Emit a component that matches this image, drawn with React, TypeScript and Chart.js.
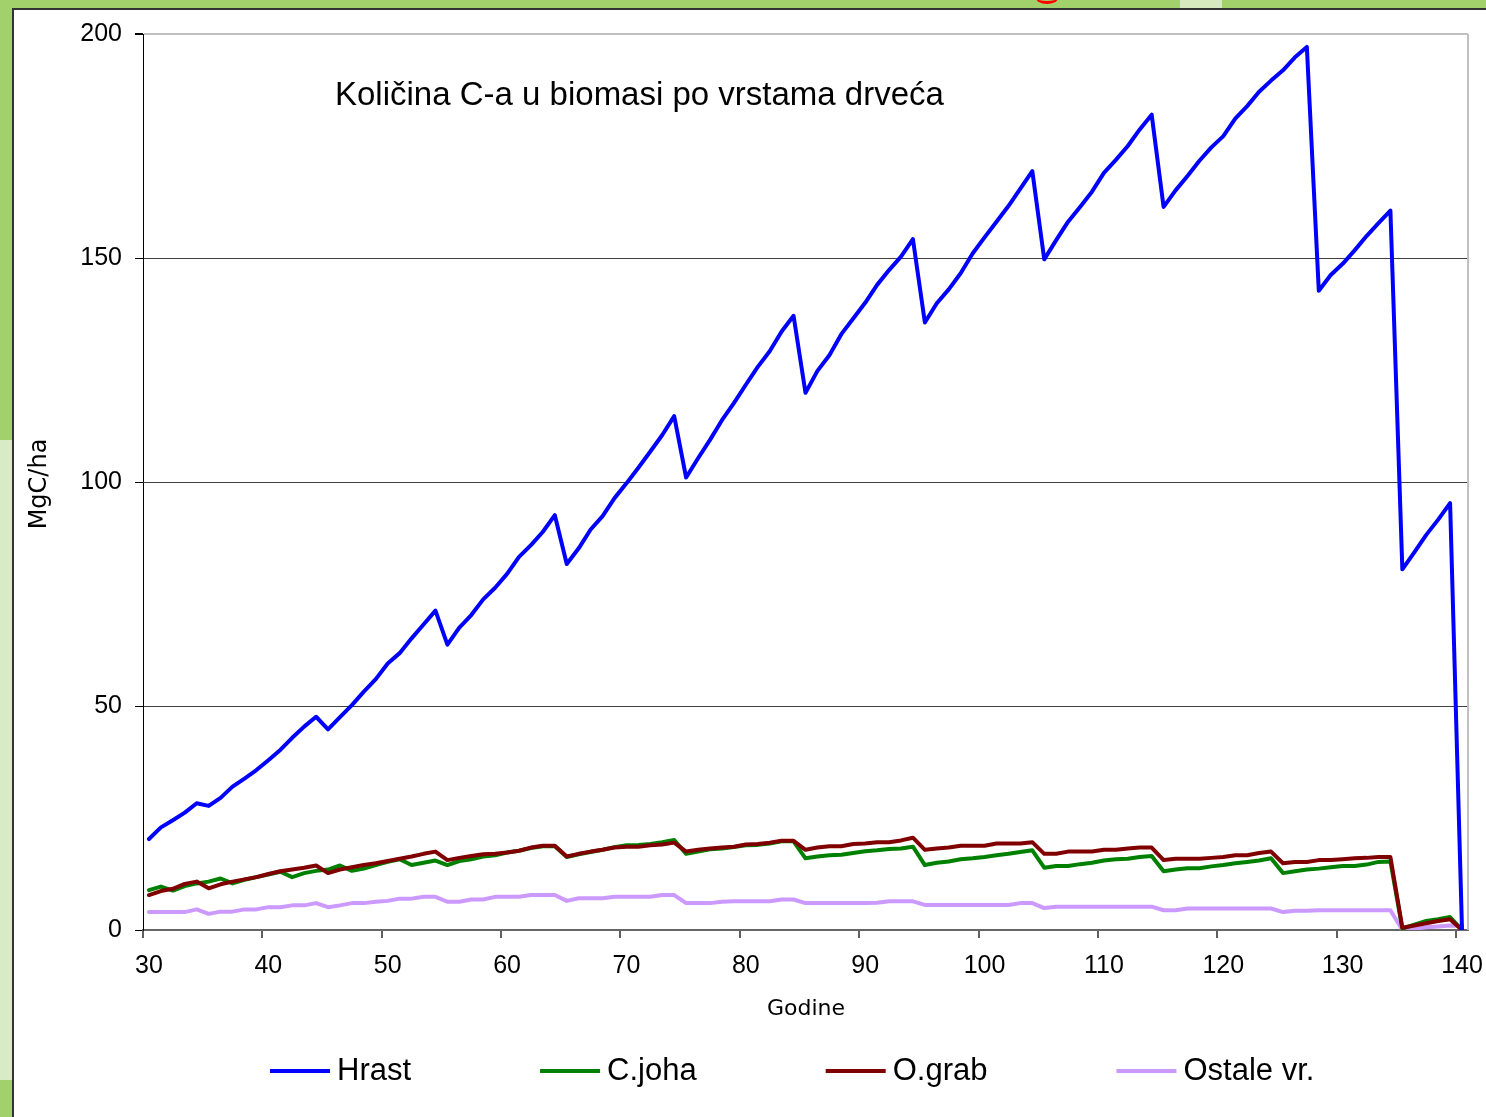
import React, { useEffect, useRef } from "react";
import { Chart, registerables } from "chart.js";

Chart.register(...registerables);

// ---- data ----
const years = [
  "30", "31", "32", "33", "34", "35", "36", "37", "38", "39",
  "40", "41", "42", "43", "44", "45", "46", "47", "48", "49",
  "50", "51", "52", "53", "54", "55", "56", "57", "58", "59",
  "60", "61", "62", "63", "64", "65", "66", "67", "68", "69",
  "70", "71", "72", "73", "74", "75", "76", "77", "78", "79",
  "80", "81", "82", "83", "84", "85", "86", "87", "88", "89",
  "90", "91", "92", "93", "94", "95", "96", "97", "98", "99",
  "100", "101", "102", "103", "104", "105", "106", "107", "108", "109",
  "110", "111", "112", "113", "114", "115", "116", "117", "118", "119",
  "120", "121", "122", "123", "124", "125", "126", "127", "128", "129",
  "130", "131", "132", "133", "134", "135", "136", "137", "138", "139",
  "140",
];

const hrast = [
  20.3, 22.9, 24.5, 26.2, 28.3, 27.7, 29.5, 32.0, 33.8, 35.7,
  37.9, 40.2, 42.9, 45.4, 47.6, 44.8, 47.5, 50.2, 53.2, 56.0,
  59.5, 61.8, 65.1, 68.2, 71.3, 63.7, 67.5, 70.3, 73.8, 76.4,
  79.5, 83.3, 85.9, 88.9, 92.6, 81.7, 85.2, 89.4, 92.4, 96.4,
  99.7, 103.2, 106.8, 110.5, 114.7, 101.0, 105.3, 109.4, 113.8, 117.6,
  121.7, 125.7, 129.2, 133.6, 137.1, 119.9, 124.8, 128.3, 133.0, 136.5,
  140.0, 144.0, 147.3, 150.3, 154.2, 135.6, 139.9, 143.0, 146.6, 151.0,
  154.6, 158.1, 161.6, 165.5, 169.4, 149.7, 154.0, 158.1, 161.4, 164.8,
  169.0, 171.9, 175.0, 178.7, 182.0, 161.4, 165.1, 168.3, 171.7, 174.7,
  177.2, 181.1, 183.9, 187.1, 189.6, 191.9, 194.8, 197.1, 142.7, 146.2,
  148.7, 151.7, 154.9, 157.8, 160.6, 80.5, 84.3, 88.2, 91.6, 95.3,
  0,
];

const cJoha = [
  8.9, 9.7, 8.8, 9.8, 10.4, 10.8, 11.5, 10.4, 11.2, 11.8,
  12.4, 13.0, 11.8, 12.7, 13.2, 13.5, 14.4, 13.2, 13.7, 14.5,
  15.2, 15.8, 14.5, 15.0, 15.5, 14.5, 15.4, 15.8, 16.4, 16.7,
  17.3, 17.7, 18.3, 18.7, 18.7, 16.3, 16.9, 17.4, 17.9, 18.5,
  18.9, 19.0, 19.2, 19.6, 20.1, 17.0, 17.5, 18.0, 18.2, 18.5,
  18.9, 19.0, 19.3, 19.8, 19.8, 16.0, 16.4, 16.7, 16.8, 17.2,
  17.6, 17.8, 18.1, 18.2, 18.6, 14.5, 15.0, 15.3, 15.8, 16.0,
  16.3, 16.7, 17.0, 17.4, 17.8, 13.9, 14.3, 14.3, 14.7, 15.0,
  15.5, 15.8, 15.9, 16.3, 16.5, 13.1, 13.5, 13.8, 13.8, 14.2,
  14.5, 14.9, 15.2, 15.5, 16.0, 12.7, 13.1, 13.5, 13.7, 14.0,
  14.3, 14.3, 14.6, 15.2, 15.3, 0.3, 1.2, 2.0, 2.4, 2.9,
  0,
];

const oGrab = [
  7.8, 8.7, 9.2, 10.3, 10.8, 9.3, 10.2, 10.8, 11.3, 11.8,
  12.5, 13.1, 13.5, 13.9, 14.4, 12.7, 13.5, 14.0, 14.5, 14.9,
  15.4, 15.9, 16.4, 17.0, 17.5, 15.6, 16.1, 16.5, 16.9, 17.0,
  17.3, 17.7, 18.4, 18.8, 18.8, 16.4, 17.0, 17.5, 17.9, 18.4,
  18.6, 18.6, 18.9, 19.1, 19.5, 17.5, 17.9, 18.2, 18.4, 18.6,
  19.1, 19.2, 19.5, 19.9, 19.9, 17.9, 18.4, 18.7, 18.7, 19.2,
  19.3, 19.6, 19.6, 20.0, 20.6, 17.9, 18.2, 18.4, 18.8, 18.8,
  18.8, 19.3, 19.3, 19.3, 19.6, 17.0, 17.0, 17.5, 17.5, 17.5,
  17.9, 17.9, 18.2, 18.4, 18.4, 15.6, 15.9, 15.9, 15.9, 16.1,
  16.3, 16.7, 16.7, 17.2, 17.5, 14.9, 15.2, 15.2, 15.6, 15.6,
  15.8, 16.0, 16.1, 16.3, 16.3, 0.5, 1.0, 1.5, 2.0, 2.4,
  0,
];

const ostale = [
  4.0, 4.0, 4.0, 4.0, 4.6, 3.6, 4.1, 4.1, 4.6, 4.6,
  5.1, 5.1, 5.5, 5.5, 6.0, 5.1, 5.5, 6.0, 6.0, 6.3,
  6.5, 7.0, 7.0, 7.4, 7.4, 6.3, 6.3, 6.8, 6.8, 7.4,
  7.4, 7.4, 7.8, 7.8, 7.8, 6.5, 7.1, 7.1, 7.1, 7.4,
  7.4, 7.4, 7.4, 7.8, 7.8, 6.0, 6.0, 6.0, 6.3, 6.4,
  6.4, 6.4, 6.4, 6.8, 6.8, 6.0, 6.0, 6.0, 6.0, 6.0,
  6.0, 6.1, 6.4, 6.4, 6.4, 5.6, 5.6, 5.6, 5.6, 5.6,
  5.6, 5.6, 5.6, 6.0, 6.0, 4.9, 5.2, 5.2, 5.2, 5.2,
  5.2, 5.2, 5.2, 5.2, 5.2, 4.4, 4.4, 4.8, 4.8, 4.8,
  4.8, 4.8, 4.8, 4.8, 4.8, 4.0, 4.3, 4.3, 4.4, 4.4,
  4.4, 4.4, 4.4, 4.4, 4.4, 0, 0.3, 0.6, 0.8, 1.0,
  0.9,
];

const seriesNames = ["Hrast", "C.joha", "O.grab", "Ostale vr."];
const seriesColors = ["#0000ff", "#008000", "#800000", "#cc99ff"];
const seriesOrder = [0, 2, 1, 3];
const yTickValues = [0, 50, 100, 150, 200];

const chartTitle = "Količina C-a u biomasi po vrstama drveća";
const xTitle = "Godine";
const yTitle = "MgC/ha";

const decorPlugin = {
  id: "decor",
  beforeDatasetsDraw(chart: any) {
    const { ctx, chartArea: a } = chart;
    ctx.save();
    ctx.strokeStyle = "#c0c0c0";
    ctx.lineWidth = 2;
    ctx.beginPath();
    ctx.moveTo(a.right, a.top);
    ctx.lineTo(a.right, a.bottom);
    ctx.stroke();
    ctx.restore();
  },
  afterDraw(chart: any) {
    const { ctx } = chart;
    ctx.save();
    ctx.fillStyle = "#000";
    // inner title
    ctx.font = "33px 'Liberation Sans', Arial, sans-serif";
    ctx.textAlign = "left";
    ctx.textBaseline = "middle";
    ctx.fillText(chartTitle, 335, 96);
    // x title
    ctx.font = "22px 'DejaVu Sans', sans-serif";
    ctx.textAlign = "center";
    ctx.fillText(xTitle, 806, 1009);
    // y title
    ctx.save();
    ctx.font = "24px 'DejaVu Sans', sans-serif";
    ctx.translate(40, 484);
    ctx.rotate(-Math.PI / 2);
    ctx.fillText(yTitle, 0, 0);
    ctx.restore();
    // legend
    ctx.font = "31px 'Liberation Sans', Arial, sans-serif";
    ctx.textAlign = "left";
    let x = 270;
    const y = 1071;
    chart.data.datasets.forEach((ds: any) => {
      ctx.strokeStyle = ds.borderColor;
      ctx.lineWidth = 4;
      ctx.beginPath();
      ctx.moveTo(x, y);
      ctx.lineTo(x + 60, y);
      ctx.stroke();
      ctx.fillStyle = "#000";
      ctx.fillText(ds.label, x + 67, y);
      x += 67 + ctx.measureText(ds.label).width + 129;
    });
    ctx.restore();
  },
};

export default function App() {
  const ref = useRef<HTMLCanvasElement>(null);

  useEffect(() => {
    const seriesData = [hrast, cJoha, oGrab, ostale];
    const chart = new Chart(ref.current as HTMLCanvasElement, {
      type: "line",
      data: {
        labels: years,
        datasets: seriesNames.map((name, i) => ({
          label: name,
          data: seriesData[i],
          borderColor: seriesColors[i],
          backgroundColor: seriesColors[i],
          borderWidth: 4,
          pointRadius: 0,
          tension: 0,
          fill: false,
          order: seriesOrder[i],
        })),
      },
      options: {
        responsive: false,
        animation: false,
        devicePixelRatio: 1,
        layout: { padding: { left: 0, top: 34, right: 18, bottom: 0 } },
        plugins: {
          legend: { display: false },
          tooltip: { enabled: false },
          title: { display: false },
        },
        elements: {
          line: { borderJoinStyle: "round", borderCapStyle: "round" },
        },
        scales: {
          x: {
            type: "category",
            offset: true,
            grid: {
              offset: true,
              drawOnChartArea: false,
              drawTicks: true,
              tickLength: 8,
              lineWidth: 2,
              color: (c: any) =>
                typeof c.index === "number" && c.index % 10 === 0 ? "#606060" : "rgba(0,0,0,0)",
            },
            border: { color: "#666666", width: 2 },
            ticks: {
              autoSkip: false,
              maxRotation: 0,
              minRotation: 0,
              padding: 13,
              color: "#000",
              font: { family: "'Liberation Sans', Arial, sans-serif", size: 25 },
              callback: (_v: any, i: number) => (i % 10 === 0 ? years[i] : ""),
            },
            afterFit: (s: any) => {
              s.height = 187;
              s.paddingLeft = 0;
              s.paddingRight = 0;
            },
          },
          y: {
            min: 0,
            max: 200,
            afterBuildTicks: (s: any) => {
              s.ticks = yTickValues.map((v) => ({ value: v }));
            },
            grid: {
              color: (c: any) => {
                const v = c.tick ? c.tick.value : -1;
                if (v === 200) return "#c0c0c0";
                if (v === 0) return "rgba(0,0,0,0)";
                return "#404040";
              },
              lineWidth: (c: any) => (c.tick && c.tick.value === 200 ? 2 : 1),
              tickColor: "#000",
              tickLength: 8,
            },
            border: { color: "#000", width: 1 },
            ticks: {
              padding: 13,
              color: "#000",
              font: { family: "'Liberation Sans', Arial, sans-serif", size: 25 },
            },
            afterFit: (s: any) => {
              s.width = 143;
              s.paddingTop = 0;
              s.paddingBottom = 0;
            },
          },
        },
      },
      plugins: [decorPlugin],
    } as any);
    return () => chart.destroy();
  }, []);

  return (
    <div
      style={{
        position: "absolute",
        left: 0,
        top: 0,
        width: 1486,
        height: 1117,
        overflow: "hidden",
        background: "#a2d06a",
      }}
    >
      <div style={{ position: "absolute", left: 0, top: 440, width: 12, height: 640, background: "#d9eac6" }} />
      <div style={{ position: "absolute", left: 1180, top: 0, width: 42, height: 8, background: "#d7e9bf" }} />
      <div
        style={{
          position: "absolute",
          left: 1036,
          top: -8,
          width: 22,
          height: 12,
          borderRadius: "50%",
          borderBottom: "3px solid #ff0000",
          boxSizing: "border-box",
        }}
      />
      <div
        style={{
          position: "absolute",
          left: 12,
          top: 8,
          right: 0,
          bottom: 0,
          background: "#ffffff",
          borderLeft: "2px solid #333333",
          borderTop: "2px solid #333333",
        }}
      />
      <canvas
        ref={ref}
        width={1486}
        height={1117}
        style={{ position: "absolute", left: 0, top: 0, width: 1486, height: 1117 }}
      />
    </div>
  );
}
